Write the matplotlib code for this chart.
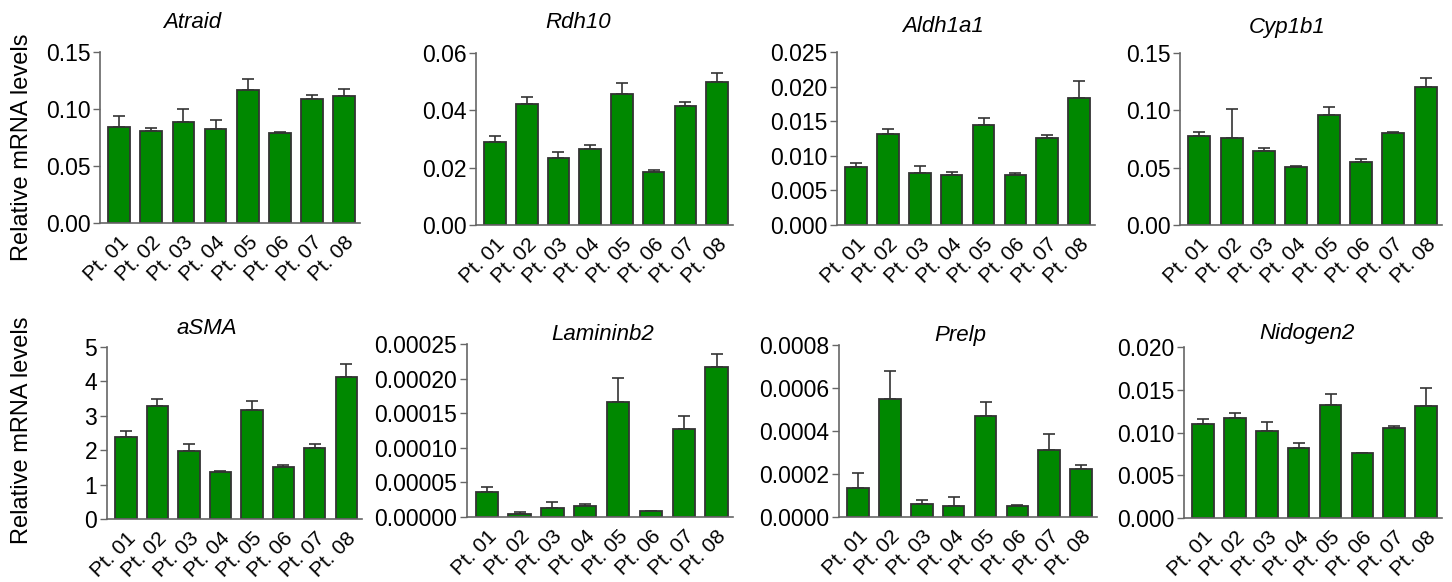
import matplotlib
matplotlib.use("Agg")
import matplotlib.pyplot as plt
import numpy as np

plt.rcParams['font.family'] = ['Liberation Sans', 'DejaVu Sans']

patients = ["Pt. 01", "Pt. 02", "Pt. 03", "Pt. 04", "Pt. 05", "Pt. 06", "Pt. 07", "Pt. 08"]

genes = ["Atraid", "Rdh10", "Aldh1a1", "Cyp1b1", "aSMA", "Lamininb2", "Prelp", "Nidogen2"]

atraid_mean = [0.0839, 0.0804, 0.0886, 0.0822, 0.1167, 0.0787, 0.1085, 0.1117]
atraid_sem = [0.0103, 0.0026, 0.0111, 0.0084, 0.0093, 0.0012, 0.0035, 0.0056]

rdh10_mean = [0.0289, 0.0422, 0.0234, 0.0266, 0.0457, 0.0185, 0.0414, 0.0499]
rdh10_sem = [0.0023, 0.0024, 0.0022, 0.0014, 0.0039, 0.0007, 0.0015, 0.0030]

aldh1a1_mean = [0.00837, 0.01313, 0.00755, 0.00721, 0.01452, 0.00721, 0.01264, 0.01832]
aldh1a1_sem = [0.00053, 0.00081, 0.00101, 0.00043, 0.00091, 0.00024, 0.00034, 0.00250]

cyp1b1_mean = [0.0772, 0.0763, 0.0641, 0.0502, 0.0955, 0.0548, 0.0801, 0.1204]
cyp1b1_sem = [0.0043, 0.0252, 0.0029, 0.0012, 0.0075, 0.0026, 0.0011, 0.0078]

asma_mean = [2.39, 3.28, 1.97, 1.37, 3.18, 1.50, 2.05, 4.13]
asma_sem = [0.17, 0.20, 0.20, 0.02, 0.24, 0.07, 0.13, 0.37]

lamininb2_mean = [0.0000359, 0.0000039, 0.0000126, 0.0000160, 0.0001655, 0.0000083, 0.0001267, 0.0002170]
lamininb2_sem = [0.0000078, 0.0000039, 0.0000092, 0.0000029, 0.0000360, 0.0000002, 0.0000199, 0.0000190]

prelp_mean = [0.000134, 0.000550, 0.0000606, 0.0000528, 0.000471, 0.0000513, 0.000311, 0.000225]
prelp_sem = [0.000071, 0.000130, 0.0000202, 0.0000420, 0.000066, 0.0000062, 0.000077, 0.000017]

nidogen2_mean = [0.01101, 0.01170, 0.01016, 0.00814, 0.01322, 0.00756, 0.01054, 0.01314]
nidogen2_sem = [0.00054, 0.00063, 0.00112, 0.00066, 0.00128, 0.00008, 0.00020, 0.00209]

means = [atraid_mean, rdh10_mean, aldh1a1_mean, cyp1b1_mean,
         asma_mean, lamininb2_mean, prelp_mean, nidogen2_mean]
sems = [atraid_sem, rdh10_sem, aldh1a1_sem, cyp1b1_sem,
        asma_sem, lamininb2_sem, prelp_sem, nidogen2_sem]

ytick_labels = [
    ["0.00", "0.05", "0.10", "0.15"],
    ["0.00", "0.02", "0.04", "0.06"],
    ["0.000", "0.005", "0.010", "0.015", "0.020", "0.025"],
    ["0.00", "0.05", "0.10", "0.15"],
    ["0", "1", "2", "3", "4", "5"],
    ["0.00000", "0.00005", "0.00010", "0.00015", "0.00020", "0.00025"],
    ["0.0000", "0.0002", "0.0004", "0.0006", "0.0008"],
    ["0.000", "0.005", "0.010", "0.015", "0.020"],
]

W, H = 1452, 582
fig = plt.figure(figsize=(W / 100, H / 100), dpi=100)

# axes boxes in pixels: left, right, top, bottom
boxes = [
    (100, 360, 52, 223),
    (476, 733, 53, 225),
    (837, 1095, 52, 225),
    (1180, 1442, 53, 225),
    (107, 362, 347, 519),
    (467, 733, 344, 517),
    (839, 1097, 345, 517),
    (1184, 1442, 347, 518),
]
# title centre positions in pixels (x, y)
title_pos = [
    (192, 22), (578, 23), (943, 27), (1287, 27),
    (207, 328), (603, 335), (960, 335), (1307, 333),
]

bar_color = "#008800"
edge_color = "#333333"
spine_color = "#666666"

for i, (gene, m, s, labels, box, tp) in enumerate(zip(genes, means, sems, ytick_labels, boxes, title_pos)):
    l, r, t, b = box
    ax = fig.add_axes([l / W, 1 - b / H, (r - l) / W, (b - t) / H])
    x = np.arange(len(patients))
    ax.bar(x, m, width=0.68, color=bar_color, edgecolor=edge_color, linewidth=1.3, zorder=2)
    ax.errorbar(x, m, yerr=[np.zeros(len(m)), s], fmt="none", ecolor=edge_color,
                elinewidth=1.2, capsize=4.3, capthick=1.2, zorder=1)
    ticks = [float(v) for v in labels]
    ax.set_yticks(ticks)
    ax.set_yticklabels(labels)
    ax.set_ylim(0, ticks[-1])
    ax.set_xlim(-0.6, 7.5)
    ax.set_xticks(x)
    ax.set_xticklabels(patients, rotation=45, ha="right", rotation_mode="anchor")
    ax.tick_params(axis="y", labelsize=16.5, length=5, width=1, color=spine_color, pad=2)
    ax.tick_params(axis="x", labelsize=15, length=0, pad=7)
    for side in ["top", "right"]:
        ax.spines[side].set_visible(False)
    for side in ["left", "bottom"]:
        ax.spines[side].set_color(spine_color)
        ax.spines[side].set_linewidth(1.2)
    fig.text(tp[0] / W, 1 - tp[1] / H, gene, fontsize=16, style="italic",
             ha="center", va="center")

fig.text(22 / W, 1 - 147 / H, "Relative mRNA levels", fontsize=17, rotation=90,
         ha="center", va="center")
fig.text(22 / W, 1 - 430 / H, "Relative mRNA levels", fontsize=17, rotation=90,
         ha="center", va="center")

fig.savefig("out.png", dpi=100)
